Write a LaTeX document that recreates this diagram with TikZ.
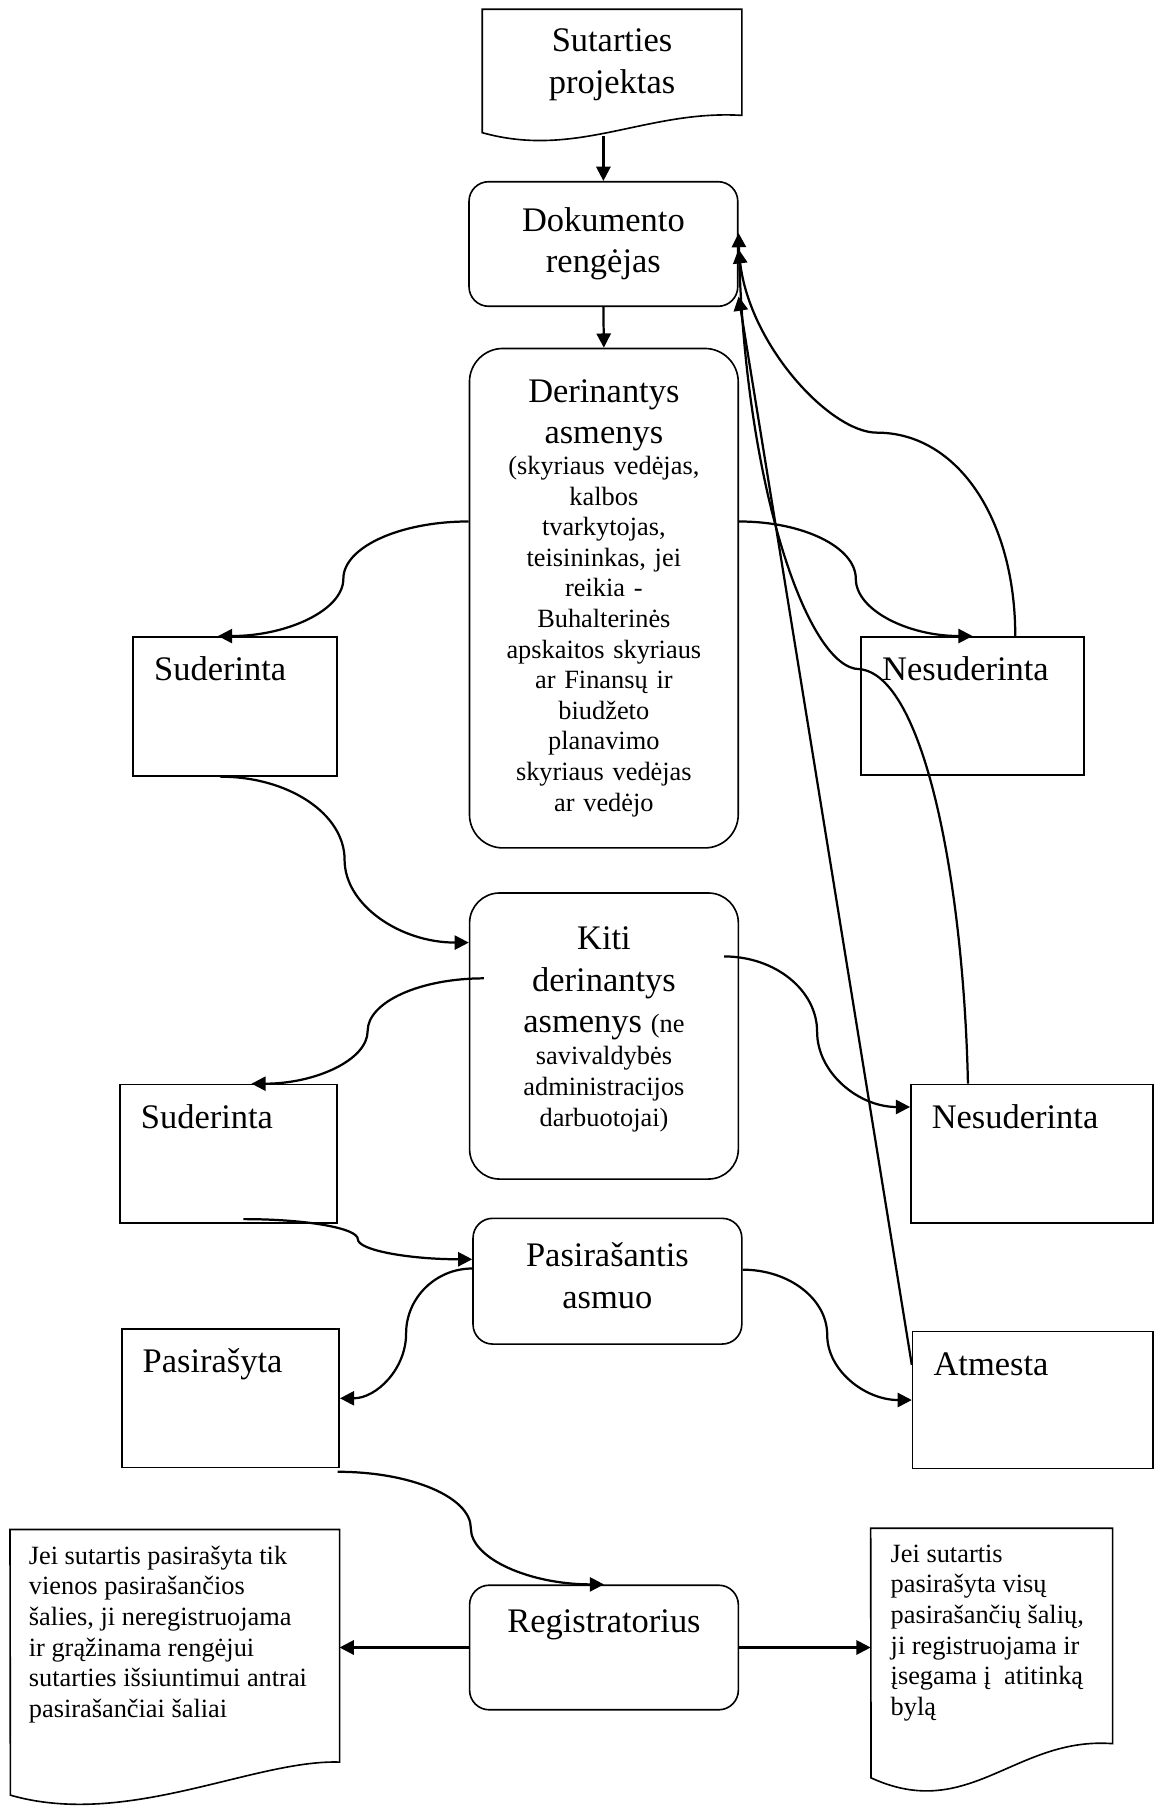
\documentclass[tikz,border=0pt]{standalone}
\usepackage{fontspec}
\setmainfont{Liberation Serif}
\usetikzlibrary{arrows.meta,calc}
\newcommand{\lgtxt}{\fontsize{17}{20.4}\selectfont}
\newcommand{\smtxt}{\fontsize{13}{15.1}\selectfont}
\tikzset{
  conn/.style={line width=1.1pt,-{Triangle[length=7pt,width=7pt]}},
  sway/.style={to path={let \p1=(\tikztostart),\p2=(\tikztotarget),\p3=($(\p1)!0.5!(\p2)$) in
    .. controls ($(\p1)!0.55!(\x3,\y1)$) and ($(\p3)!0.55!(\x3,\y1)$) .. (\p3)
    .. controls ($(\p3)!0.55!(\x3,\y2)$) and ($(\p2)!0.55!(\x3,\y2)$) .. (\p2) \tikztonodes}},
  plainbox/.style={draw,line width=0.8pt,inner sep=2pt},
  rbox/.style={plainbox,rounded corners=0.34cm,minimum width=4.66cm,text width=4.4cm,align=center,font=\lgtxt},
  sbox/.style={plainbox,minimum height=2.4cm},
  lbl/.style={anchor=base west,font=\lgtxt,inner sep=0pt},
  note/.style={anchor=north west,align=left,font=\smtxt,inner sep=0pt}
}
\begin{document}
\begin{tikzpicture}[x=0.02cm,y=-0.02cm]
% everything is in pixels of the scan, y going down
\useasboundingbox (0,0) rectangle (1001,1568);
% The contract draft at the top
\draw[line width=0.8pt] (418,8) -- (643,8) -- (643,100) .. controls (560,95) and (500,138) .. (418,115) -- cycle;
\node[align=center,font=\lgtxt] (proj) at (530.5,56) {Sutarties\\projektas};
\coordinate (projend) at (523,118);
% The middle column
\node[rbox,minimum height=2.16cm] (reng) at (523,211.5) {Dokumento\\rengėjas};
\node[rbox,font=\smtxt,rounded corners=0.58cm,minimum height=8.66cm] (der) at (523.4,518.5) {{\lgtxt Derinantys\\asmenys\par}(skyriaus vedėjas,\\kalbos\\tvarkytojas,\\teisininkas, jei\\reikia -\\Buhalterinės\\apskaitos skyriaus\\ar Finansų ir\\biudžeto\\planavimo\\skyriaus vedėjas\\ar vedėjo};
\node[rbox,font=\smtxt,rounded corners=0.52cm,minimum height=4.96cm] (kiti) at (523.5,898) {{\lgtxt Kiti\\derinantys\\asmenys {\smtxt (ne}\par}\vspace{1pt}savivaldybės\\administracijos\\darbuotojai)\rule[-0.33cm]{0pt}{0.33cm}};
\node[rbox,minimum height=2.18cm] (pas) at (526.5,1110.5) {Pasirašantis\\asmuo\rule[-0.2cm]{0pt}{0.2cm}};
\node[rbox,minimum height=2.16cm] (reg) at (523.5,1428) {Registratorius\\\strut};
% The result boxes, left and right
\node[sbox,minimum width=3.53cm,minimum height=2.41cm] (sud1) at (203.75,612.25) {};
\node[sbox,minimum width=3.86cm] (nes1) at (843,612) {};
\node[sbox,minimum width=3.76cm] (sud2) at (198,1000) {};
\node[sbox,minimum width=4.2cm] (nes2) at (894.5,1000) {};
\node[sbox,minimum width=3.77cm] (pasy) at (199.75,1212) {};
\node[sbox,minimum width=4.17cm,minimum height=2.38cm] (atm) at (895.25,1213.5) {};
\node[lbl] (sud1l) at ([shift={(18.5,38.5)}]sud1.north west) {Suderinta};
\node[lbl] (nes1l) at ([shift={(18.5,38.5)}]nes1.north west) {Nesuderinta};
\node[lbl] (sud2l) at ([shift={(18.5,38.5)}]sud2.north west) {Suderinta};
\node[lbl] (nes2l) at ([shift={(18.5,38.5)}]nes2.north west) {Nesuderinta};
\node[lbl] (pasyl) at ([shift={(18.5,38.5)}]pasy.north west) {Pasirašyta};
\node[lbl] (atml) at ([shift={(18.5,38.5)}]atm.north west) {Atmesta};
% The two documents at the bottom
\node[minimum width=5.7cm,minimum height=4.02cm,inner sep=0pt] (docL) at (151.5,1426.5) {};
\draw[line width=0.8pt] (docL.north west) -- (docL.north east) -- (docL.south east) .. controls (220,1525) and (110,1585) .. (9,1556) -- cycle;
\node[note] (docLt) at ([shift={(16,14)}]docL.north west) {Jei sutartis pasirašyta tik\\vienos pasirašančios\\šalies, ji neregistruojama\\ir grąžinama rengėjui\\sutarties išsiuntimui antrai\\pasirašančiai šaliai};
\node[minimum width=4.18cm,minimum height=3.72cm,inner sep=0pt] (docR) at (859.5,1418) {};
\draw[line width=0.8pt] (docR.north west) -- (docR.north east) -- (docR.south east) .. controls (880,1505) and (840,1580) .. (755,1541) -- cycle;
\node[note] (docRt) at ([shift={(17,14)}]docR.north west) {Jei sutartis\\pasirašyta visų\\pasirašančių šalių,\\ji registruojama ir\\įsegama į \ atitinką\\bylą};
% Straight arrows
\draw[conn] (projend) -- (reng.north);
\draw[conn] (reng.south) -- (der.north);
\draw[conn] (reg.west) -- (reg.west -| docL.east);
\draw[conn] (reg.east) -- (reg.east -| docR.west);
% The S shaped arrows
\draw[conn] ([shift={(0,-66.5)}]der.west) to[sway] ([shift={(-14.75,0)}]sud1.north);
\draw[conn] ([shift={(0,-66.5)}]der.east) to[sway] (nes1.north);
\draw[conn] ([shift={(-12.75,0)}]sud1.south) to[sway] ([shift={(0,-81)}]kiti.west);
\draw[conn] ([shift={(13,-50)}]kiti.west) to[sway] ([shift={(20,0)}]sud2.north);
\draw[conn] ([shift={(-13,-69)}]kiti.east) to[sway] ([shift={(0,-40.5)}]nes2.west);
\draw[conn] ([shift={(13,-4)}]sud2.south) to[sway] ([shift={(0,-19)}]pas.west);
\draw[conn] ([shift={(0,-11)}]pas.west) to[sway] (pasy.east);
\draw[conn] ([shift={(0,-10)}]pas.east) to[sway] (atm.west);
\draw[conn] ([shift={(-2,3)}]pasy.south east) to[sway] (reg.north);
% Back to the author
\draw[conn] ([shift={(37,0)}]nes1.north) .. controls (880,450) and (830,375) .. (760,375) .. controls (720,375) and (650,300) .. ([shift={(0,4.5)}]reng.east);
\draw[conn] ([shift={(-55.5,0)}]nes2.north) .. controls (835,760) and (800,585) .. (745,580) .. controls (700,580) and (645,420) .. ([shift={(0,-9.5)}]reng.east);
\draw[conn] ([shift={(0,-30.5)}]atm.west) -- ([shift={(0,45.5)}]reng.east);
\end{tikzpicture}
\end{document}
